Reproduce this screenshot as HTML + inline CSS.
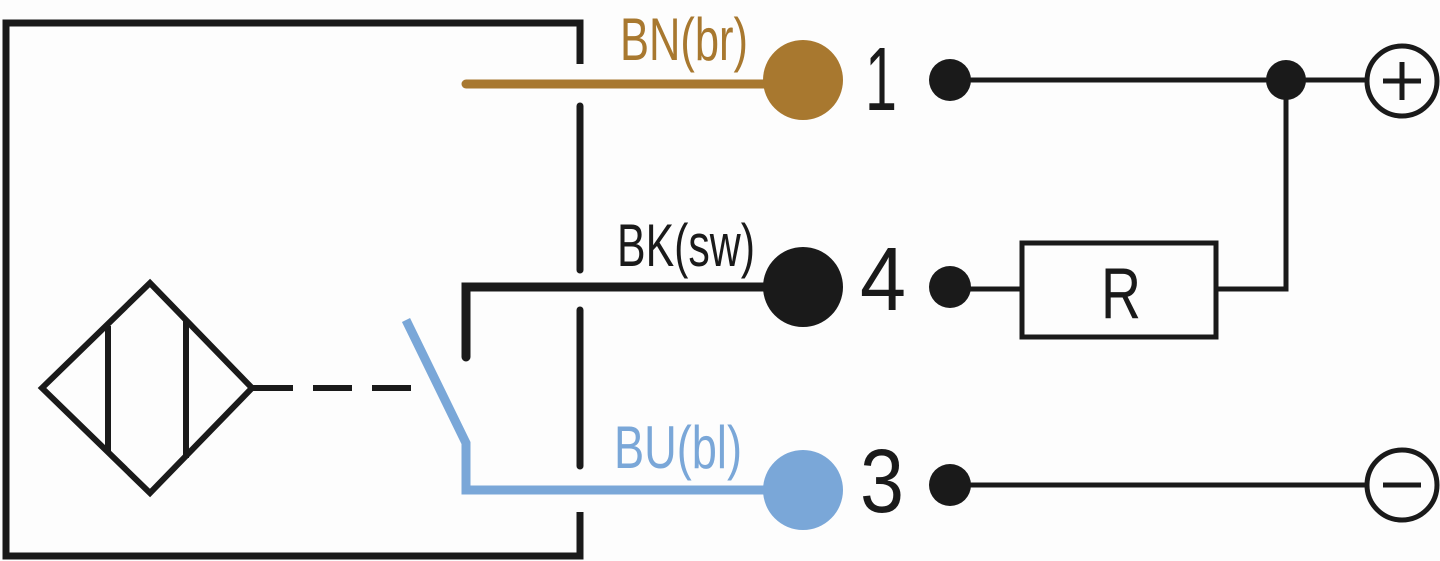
<!DOCTYPE html>
<html><head><meta charset="utf-8"><style>
html,body{margin:0;padding:0;background:#fdfdfd;}
svg{display:block}
text{font-family:"Liberation Sans",sans-serif;}
</style></head><body>
<svg width="1440" height="561" viewBox="0 0 1440 561" xmlns="http://www.w3.org/2000/svg">
<g fill="none" stroke="#1a1a1a" stroke-width="7">
<polyline points="580,64 580,23 6,23 6,556 580,556 580,512"/>
<line x1="580" y1="106" x2="580" y2="270" stroke-linecap="round"/>
<line x1="580" y1="310" x2="580" y2="466" stroke-linecap="round"/>
<polygon points="42,388 150,283 252,388 150,493" stroke-width="6"/>
<line x1="108" y1="326" x2="108" y2="451" stroke-width="6"/>
<line x1="186" y1="320" x2="186" y2="458" stroke-width="6"/>
<line x1="252" y1="388" x2="293" y2="388" stroke-width="6"/>
<line x1="313" y1="388" x2="352" y2="388" stroke-width="6"/>
<line x1="372" y1="388" x2="411" y2="388" stroke-width="6"/>
</g>
<line x1="466" y1="84" x2="803" y2="84" stroke="#a8782f" stroke-width="9" stroke-linecap="round"/>
<circle cx="803" cy="80" r="40" fill="#a8782f"/>
<polyline points="466,357 466,287 803,287" fill="none" stroke="#1a1a1a" stroke-width="9" stroke-linecap="round"/>
<circle cx="803" cy="287" r="40" fill="#1a1a1a"/>
<polyline points="406,320 466,443 466,490 803,490" fill="none" stroke="#7aa7d8" stroke-width="9"/>
<circle cx="803" cy="490" r="40" fill="#7aa7d8"/>
<text x="620" y="60" font-size="60" fill="#a8782f" textLength="128" lengthAdjust="spacingAndGlyphs">BN(br)</text>
<text x="617" y="266" font-size="60" fill="#1a1a1a" textLength="138" lengthAdjust="spacingAndGlyphs">BK(sw)</text>
<text x="614" y="468" font-size="60" fill="#7aa7d8" textLength="128" lengthAdjust="spacingAndGlyphs">BU(bl)</text>
<text x="865" y="110" font-size="90" fill="#1a1a1a" textLength="32" lengthAdjust="spacingAndGlyphs">1</text>
<text x="860" y="310" font-size="90" fill="#1a1a1a" textLength="46" lengthAdjust="spacingAndGlyphs">4</text>
<text x="860" y="512" font-size="90" fill="#1a1a1a" textLength="44" lengthAdjust="spacingAndGlyphs">3</text>
<g stroke="#1a1a1a" stroke-width="5" fill="none">
<line x1="950" y1="80" x2="1366" y2="80"/>
<polyline points="1286,80 1286,289 1216,289"/>
<line x1="950" y1="289" x2="1022" y2="289"/>
<rect x="1022" y="243" width="194" height="94"/>
<line x1="950" y1="485" x2="1366" y2="485"/>
<circle cx="1402" cy="81" r="35"/>
<circle cx="1402" cy="485" r="35"/>
<line x1="1383" y1="81" x2="1421" y2="81"/>
<line x1="1402" y1="62" x2="1402" y2="100"/>
<line x1="1383" y1="485" x2="1421" y2="485"/>
</g>
<circle cx="950" cy="80" r="21" fill="#1a1a1a"/>
<circle cx="950" cy="287" r="21" fill="#1a1a1a"/>
<circle cx="950" cy="485" r="21" fill="#1a1a1a"/>
<circle cx="1286" cy="80" r="20" fill="#1a1a1a"/>
<text x="1101" y="318" font-size="72" fill="#1a1a1a" textLength="40" lengthAdjust="spacingAndGlyphs">R</text>
</svg>
</body></html>
